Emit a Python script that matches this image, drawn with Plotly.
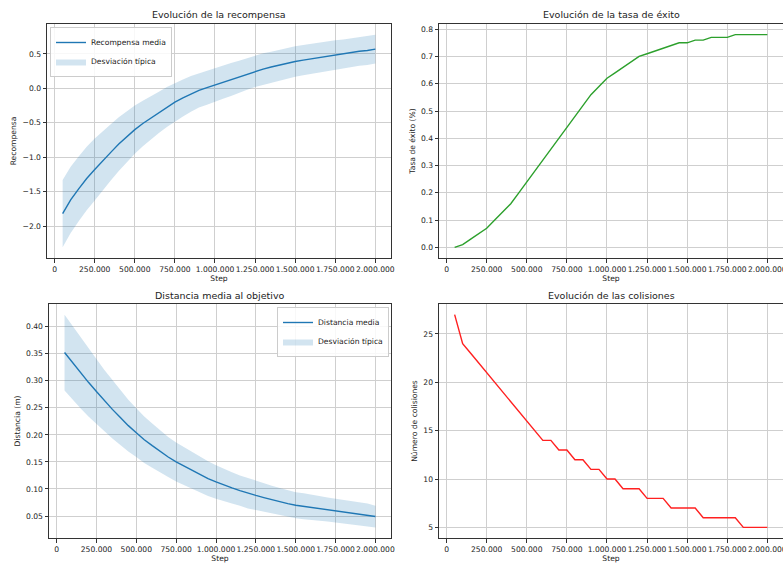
import plotly.graph_objects as go

W, H = 783, 563

steps = [50000, 100000, 150000, 200000, 250000, 300000, 350000, 400000, 450000, 500000,
         550000, 600000, 650000, 700000, 750000, 800000, 850000, 900000, 950000, 1000000,
         1050000, 1100000, 1150000, 1200000, 1250000, 1300000, 1350000, 1400000, 1450000, 1500000,
         1550000, 1600000, 1650000, 1700000, 1750000, 1800000, 1850000, 1900000, 1950000, 2000000]

reward_mean = [-1.82, -1.62, -1.46, -1.31, -1.18, -1.05, -0.93, -0.81, -0.70, -0.60,
               -0.51, -0.43, -0.35, -0.27, -0.20, -0.14, -0.08, -0.03, 0.01, 0.05,
               0.09, 0.13, 0.17, 0.21, 0.25, 0.28, 0.31, 0.34, 0.37, 0.39,
               0.41, 0.43, 0.45, 0.47, 0.49, 0.50, 0.52, 0.54, 0.55, 0.57]
reward_std = [0.49, 0.48, 0.47, 0.46, 0.45, 0.43, 0.41, 0.39, 0.37, 0.35,
              0.33, 0.31, 0.30, 0.29, 0.28, 0.27, 0.26, 0.25, 0.25, 0.24,
              0.24, 0.24, 0.23, 0.23, 0.23, 0.23, 0.22, 0.22, 0.22, 0.22,
              0.22, 0.22, 0.21, 0.21, 0.21, 0.21, 0.21, 0.21, 0.21, 0.21]

success_rate = [0.00, 0.01, 0.03, 0.05, 0.07, 0.10, 0.13, 0.16, 0.20, 0.24,
                0.28, 0.32, 0.36, 0.40, 0.44, 0.48, 0.52, 0.56, 0.59, 0.62,
                0.64, 0.66, 0.68, 0.70, 0.71, 0.72, 0.73, 0.74, 0.75, 0.75,
                0.76, 0.76, 0.77, 0.77, 0.77, 0.78, 0.78, 0.78, 0.78, 0.78]

dist_mean = [0.352, 0.333, 0.315, 0.297, 0.280, 0.263, 0.247, 0.232, 0.217, 0.204,
             0.191, 0.180, 0.169, 0.159, 0.150, 0.142, 0.134, 0.126, 0.119, 0.113,
             0.107, 0.102, 0.097, 0.092, 0.088, 0.084, 0.080, 0.077, 0.073, 0.070,
             0.068, 0.066, 0.064, 0.062, 0.060, 0.058, 0.056, 0.054, 0.052, 0.049]
dist_std = [0.070, 0.068, 0.066, 0.063, 0.060, 0.057, 0.054, 0.051, 0.048, 0.045,
            0.043, 0.041, 0.039, 0.037, 0.036, 0.035, 0.034, 0.033, 0.032, 0.031,
            0.030, 0.029, 0.028, 0.028, 0.027, 0.026, 0.026, 0.025, 0.025, 0.024,
            0.024, 0.023, 0.023, 0.022, 0.022, 0.022, 0.021, 0.021, 0.021, 0.020]

collisions = [27, 24, 23, 22, 21, 20, 19, 18, 17, 16,
              15, 14, 14, 13, 13, 12, 12, 11, 11, 10,
              10, 9, 9, 9, 8, 8, 8, 7, 7, 7,
              7, 6, 6, 6, 6, 6, 5, 5, 5, 5]

x_tickvals = [0, 250000, 500000, 750000, 1000000, 1250000, 1500000, 1750000, 2000000]
x_ticktext = ["0", "250.000", "500.000", "750.000", "1.000.000", "1.250.000",
              "1.500.000", "1.750.000", "2.000.000"]

titles = ["Evolución de la recompensa", "Evolución de la tasa de éxito",
          "Distancia media al objetivo", "Evolución de las colisiones"]
ylabels = ["Recompensa", "Tasa de éxito (%)", "Distancia (m)", "Número de colisiones"]

C0 = "#1f77b4"
BAND = "rgba(31,119,180,0.2)"
FONT = "DejaVu Sans"
FS = 7.6

fig = go.Figure()

reward_lo = [m - s for m, s in zip(reward_mean, reward_std)]
reward_hi = [m + s for m, s in zip(reward_mean, reward_std)]
dist_lo = [m - s for m, s in zip(dist_mean, dist_std)]
dist_hi = [m + s for m, s in zip(dist_mean, dist_std)]

# Panel 1
fig.add_trace(go.Scatter(x=steps, y=reward_lo, mode="lines", line=dict(width=0),
                         showlegend=False, hoverinfo="skip", xaxis="x", yaxis="y"))
fig.add_trace(go.Scatter(x=steps, y=reward_hi, mode="lines", line=dict(width=0),
                         fill="tonexty", fillcolor=BAND, name="Desviación típica",
                         legend="legend", legendrank=2, xaxis="x", yaxis="y"))
fig.add_trace(go.Scatter(x=steps, y=reward_mean, mode="lines", line=dict(color=C0, width=1.4),
                         name="Recompensa media", legend="legend", legendrank=1,
                         xaxis="x", yaxis="y"))
# Panel 2
fig.add_trace(go.Scatter(x=steps, y=success_rate, mode="lines",
                         line=dict(color="#2ca02c", width=1.4), showlegend=False,
                         xaxis="x2", yaxis="y2"))
# Panel 3
fig.add_trace(go.Scatter(x=steps, y=dist_lo, mode="lines", line=dict(width=0),
                         showlegend=False, hoverinfo="skip", xaxis="x3", yaxis="y3"))
fig.add_trace(go.Scatter(x=steps, y=dist_hi, mode="lines", line=dict(width=0),
                         fill="tonexty", fillcolor=BAND, name="Desviación típica",
                         legend="legend2", legendrank=2, xaxis="x3", yaxis="y3"))
fig.add_trace(go.Scatter(x=steps, y=dist_mean, mode="lines", line=dict(color=C0, width=1.4),
                         name="Distancia media", legend="legend2", legendrank=1,
                         xaxis="x3", yaxis="y3"))
# Panel 4
fig.add_trace(go.Scatter(x=steps, y=collisions, mode="lines",
                         line=dict(color="#ff2020", width=1.4), showlegend=False,
                         xaxis="x4", yaxis="y4"))

# pixel boxes (left, top, right, bottom)
boxes = [(47, 24, 391, 258), (439, 24, 783, 258), (49, 304, 391, 538), (439, 304, 783, 538)]
yranges = [[-2.465, 0.935], [-0.039, 0.819], [0.0094, 0.4417], [3.9, 28.1]]
ytickvals = [[-2.0, -1.5, -1.0, -0.5, 0.0, 0.5],
             [0.0, 0.1, 0.2, 0.3, 0.4, 0.5, 0.6, 0.7, 0.8],
             [0.05, 0.10, 0.15, 0.20, 0.25, 0.30, 0.35, 0.40],
             [5, 10, 15, 20, 25]]
ytickfmt = [".1f", ".1f", ".2f", "d"]

axcommon = dict(showline=True, linecolor="#333333", linewidth=1, mirror=True,
                showgrid=True, gridcolor="#cfcfcf", gridwidth=1, zeroline=False,
                ticks="outside", ticklen=3.5, tickwidth=1, tickcolor="#333333",
                ticklabeloverflow="allow",
                tickfont=dict(family=FONT, size=FS, color="#222222"))

layout = dict(width=W, height=H, margin=dict(l=0, r=0, t=0, b=0, autoexpand=False),
              paper_bgcolor="white", plot_bgcolor="white",
              font=dict(family=FONT, size=FS, color="#222222"))
annotations = []
for i, (l, t, r, b) in enumerate(boxes):
    sfx = "" if i == 0 else str(i + 1)
    xd = [l / W, min(r / W, 1.0)]
    yd = [1 - b / H, 1 - t / H]
    layout["xaxis" + sfx] = dict(domain=xd, range=[-47500, 2097500], tickvals=x_tickvals,
                                 ticktext=x_ticktext, anchor="y" + sfx, tickangle=0,
                                 title=dict(text="Step", standoff=1,
                                            font=dict(family=FONT, size=FS, color="#222222")),
                                 **axcommon)
    layout["yaxis" + sfx] = dict(domain=yd, range=yranges[i], tickvals=ytickvals[i],
                                 tickformat=ytickfmt[i], anchor="x" + sfx,
                                 title=dict(text=ylabels[i], standoff=4,
                                            font=dict(family=FONT, size=FS, color="#222222")),
                                 **axcommon)
    annotations.append(dict(text=titles[i], xref="paper", yref="paper",
                            x=(l + r) / 2 / W, y=1 - (t - 1.5) / H, xanchor="center",
                            yanchor="bottom", showarrow=False,
                            font=dict(family=FONT, size=9.5, color="#222222")))

layout["annotations"] = annotations
layout["legend"] = dict(x=50 / W, y=1 - 27 / H, xanchor="left", yanchor="top",
                        traceorder="normal",
                        bgcolor="rgba(255,255,255,0.85)", bordercolor="#cccccc", borderwidth=1,
                        font=dict(family=FONT, size=FS, color="#222222"),
                        tracegroupgap=0, itemwidth=30)
layout["legend2"] = dict(x=389 / W, y=1 - 307 / H, xanchor="right", yanchor="top",
                         traceorder="normal",
                         bgcolor="rgba(255,255,255,0.85)", bordercolor="#cccccc", borderwidth=1,
                         font=dict(family=FONT, size=FS, color="#222222"),
                         tracegroupgap=0, itemwidth=30)
fig.update_layout(**layout)

fig.write_html("out.html", config={"displayModeBar": False},
               post_script="document.body.style.margin='0px';document.body.style.overflow='hidden';")
